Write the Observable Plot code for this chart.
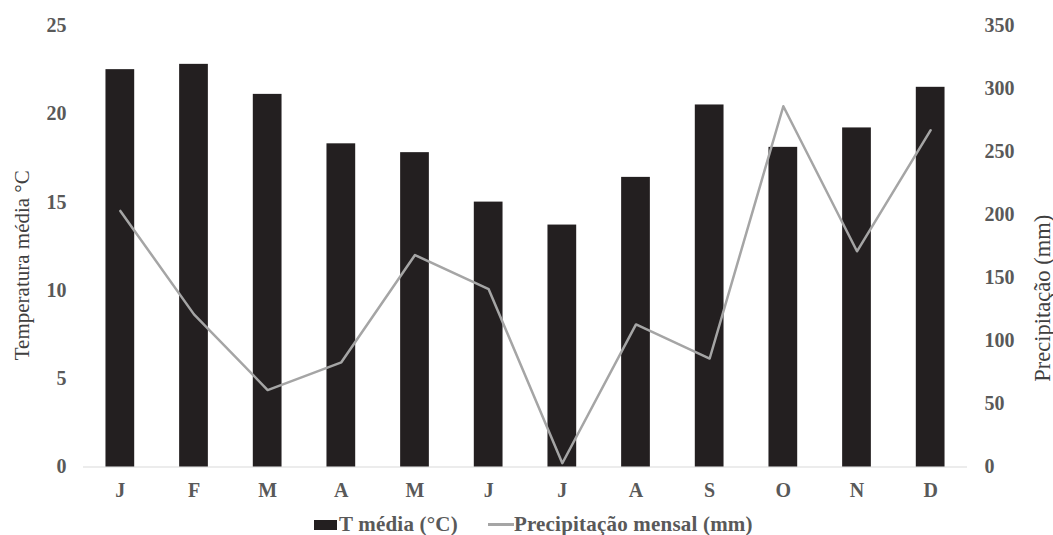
<!DOCTYPE html>
<html>
<head>
<meta charset="utf-8">
<script src="https://cdn.jsdelivr.net/npm/d3@7"></script>
<script src="https://cdn.jsdelivr.net/npm/@observablehq/plot@0.6"></script>
<style>
  html, body { margin: 0; padding: 0; background: #fff; }
  body { width: 1053px; height: 535px; position: relative; overflow: hidden;
         font-family: "Liberation Serif", "Times New Roman", serif; }
  #chart { position: absolute; left: 0; top: 0; }
  #legend { position: absolute; left: 314px; top: 514px; height: 21px; display: flex; align-items: center;
            font-family: "Liberation Serif", "Times New Roman", serif; font-weight: bold; font-size: 21px;
            line-height: 21px; color: #595959; white-space: nowrap; letter-spacing: 0.2px; }
  #legend .sw { display: inline-block; width: 23px; height: 10px; background: #231f20; margin-right: 2px; }
  #legend .ln { display: inline-block; width: 26px; height: 2.5px; background: #a5a5a5; margin-left: 30px; }
</style>
</head>
<body>
<div id="chart"></div>
<div id="legend"><span class="sw"></span><span>T média (°C)</span><span class="ln"></span><span>Precipitação mensal (mm)</span></div>
<script>
const months = ["J", "F", "M", "A", "M", "J", "J", "A", "S", "O", "N", "D"];
const temperature = [22.5, 22.8, 21.1, 18.3, 17.8, 15.0, 13.7, 16.4, 20.5, 18.1, 19.2, 21.5];
const precipitation = [203, 121, 61, 83, 168, 141, 3, 113, 86, 286, 171, 267];
const tempTicks = [0, 5, 10, 15, 20, 25];
const precipTicks = [0, 50, 100, 150, 200, 250, 300, 350];
const tempMax = 25;
const precipMax = 350;
const ratio = precipMax / tempMax;

const data = months.map((m, i) => ({i, month: m, t: temperature[i], p: precipitation[i]}));

const tickStyle = {fontSize: 20, fontWeight: "bold", fill: "#595959", tickSize: 0};

const chart = Plot.plot({
  width: 1053,
  height: 505,
  marginTop: 25,
  marginBottom: 38.5,
  marginLeft: 83,
  marginRight: 86,
  style: {fontFamily: "'Liberation Serif', 'Times New Roman', serif", background: "#fff", overflow: "visible"},
  x: {type: "band", domain: d3.range(months.length), paddingInner: 0.61, paddingOuter: 0.305, round: false},
  y: {domain: [0, tempMax]},
  marks: [
    Plot.ruleY([0], {stroke: "#d9d9d9", strokeWidth: 1}),
    Plot.barY(data, {x: "i", y: "t", fill: "#231f20", inset: 0}),
    Plot.lineY(data, {x: "i", y: d => d.p / ratio, stroke: "#a5a5a5", strokeWidth: 2.5, curve: "linear"}),
    Plot.axisX({...tickStyle, tickPadding: 16, tickFormat: i => months[i], label: null}),
    Plot.axisY(tempTicks, {...tickStyle, anchor: "left", tickPadding: 17, label: null}),
    Plot.axisY(precipTicks.map(v => v / ratio), {...tickStyle, anchor: "right", tickPadding: 17,
      tickFormat: v => String(Math.round(v * ratio)), label: null}),
    Plot.text(["Temperatura média °C"], {frameAnchor: "left", dx: -61, dy: 19, rotate: -90,
      fontSize: 21, fill: "#404040", textAnchor: "middle", lineAnchor: "middle"}),
    Plot.text(["Precipitação (mm)"], {frameAnchor: "right", dx: 75, dy: 52, rotate: -90,
      fontSize: 22.5, fill: "#404040", textAnchor: "middle", lineAnchor: "middle"})
  ]
});
document.getElementById("chart").appendChild(chart);
</script>
</body>
</html>
